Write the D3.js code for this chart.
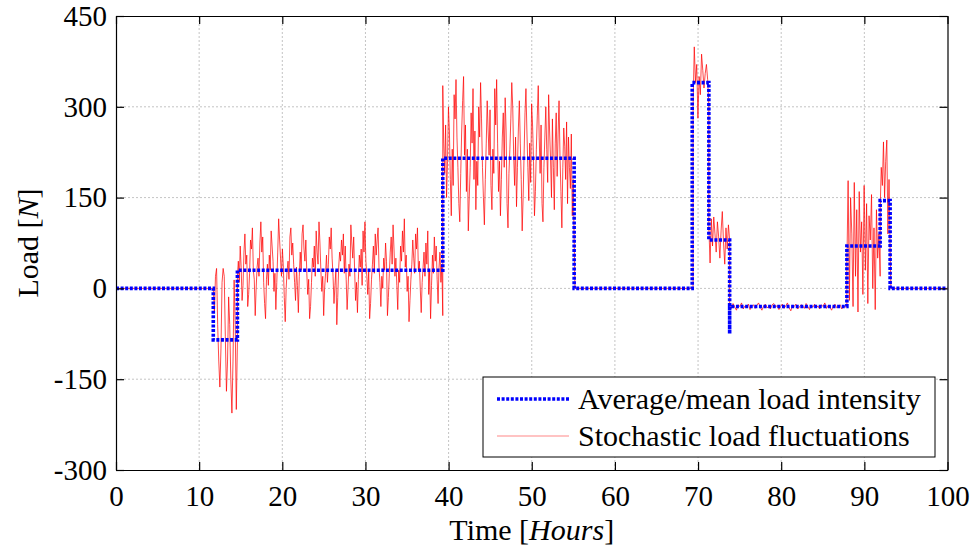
<!DOCTYPE html>
<html lang="en">
  <head>
    <meta charset="UTF-8" />
    <title>Load</title>
    <script src="https://d3js.org/d3.v7.min.js"></script>
    <style>
      body { margin: 0; background: #fff; }
      text { font-family: 'Liberation Serif', 'Times New Roman', serif; fill: #000; }
      .grid line { stroke: #c4c4c4; stroke-width: 1; stroke-dasharray: 2,2; }
    </style>
  </head>
  <body>
    <div id="chart"></div>
    <script>
      const xTicks = [0, 10, 20, 30, 40, 50, 60, 70, 80, 90, 100]
      const yTicks = [-300, -150, 0, 150, 300, 450]

      // average / mean load (step profile)
      const meanT = [0, 11.7, 11.7, 14.6, 14.6, 39.3, 39.3, 55.1, 55.1, 69.3, 69.3, 71.3, 71.3, 73.8, 73.8, 73.8, 87.9, 87.9, 91.9, 91.9, 93.1, 93.1, 100]
      const meanV = [0, 0, -85, -85, 30, 30, 215, 215, 0, 0, 340, 340, 80, 80, -75, -30, -30, 70, 70, 145, 145, 0, 0]

      // stochastic fluctuations, one array per load block: [start, end, values]
      const segA = [11.7, 14.6, [0, -40, 20, 33, -60, -120, -163, -100, 10, 33, 20, -80, -170, -120, -14, -60, -150, -206, -120, 14, -60, -200, -90]]
      const segB = [14.6, 39.3, [20, 45, 10, 70, 35, -20, 5, 60, 90, 40,
        55, -30, -10, 25, 80, 65, 100, 30, 15, -45,
        0, 35, 50, 20, 75, 110, 60, 85, 10, -25,
        -50, 15, 40, 5, 55, 30, 95, 70, 45, -5,
        25, -35, 10, 60, 115, 80, 50, 20, 65, 35,
        -15, -55, 0, 30, 45, 15, 85, 100, 55, 75,
        40, 10, -20, 35, 5, -40, 20, 60, 30, 90,
        105, 65, 45, 80, 25, -10, 15, -50, -30, 10,
        50, 35, 70, 20, 95, 60, 40, 110, 75, 30,
        -5, 20, -45, 0, 25, 55, 10, 40, 85, 65,
        100, 50, 20, -25, 5, 30, -60, -15, 35, 60,
        45, 80, 55, 90, 25, 70, 15, -35, 0, 40,
        20, 105, 75, 50, 85, 30, -20, 10, -40, 15,
        55, 35, 65, 5, 95, 60, 110, 45, 20, -10,
        30, -50, -25, 15, 40, 70, 25, 90, 55, 80,
        100, 35, 10, -30, 20, 0, 50, 30, 75, 45,
        -45, -15, 25, 60, 85, 40, 105, 65, 20, 50,
        5, -35, 30, 10, 70, 45, 95, 60, 115, 35,
        55, -5, 20, -55, -20, 15, 40, 80, 50, 25,
        90, 65, 100, 30, 45, 0, -40, 10, 35, 60,
        20, 75, 40, 95, -10, 30, -50, 5, 55, 25,
        85, 45, 70, 15, -25, 35, 60, 10, 40, -45]]
      const segC = [39.3, 55.1, [335, 240, 190, 270, 150, 210, 300, 260, 180, 120,
        230, 170, 320, 280, 345, 250, 200, 140, 110, 190,
        260, 310, 350, 220, 270, 160, 230, 95, 150, 200,
        290, 240, 330, 180, 260, 130, 210, 170, 300, 250,
        340, 280, 200, 150, 105, 180, 240, 310, 260, 220,
        295, 170, 130, 230, 190, 330, 270, 345, 240, 160,
        210, 120, 180, 250, 290, 200, 315, 260, 140, 100,
        190, 230, 280, 340, 300, 220, 170, 250, 135, 200,
        265, 310, 240, 180, 95, 150, 220, 290, 330, 260,
        200, 145, 240, 175, 305, 270, 210, 120, 160, 230,
        285, 335, 250, 190, 270, 140, 110, 200, 250, 300,
        230, 175, 320, 260, 215, 150, 280, 200, 130, 240,
        290, 185, 255, 310, 220, 160, 100, 200, 265, 235,
        180, 275, 140, 250, 200, 165, 255, 120, 180, 80]]
      const segD = [69.4, 71.3, [300, 399, 340, 370, 281, 350, 320, 387, 360, 331, 355, 370, 345, 303]]
      const segE = [71.3, 73.8, [100, 42, 115, 70, 118, 90, 60, 110, 85, 50, 95, 127, 75, 40, 100, 65, 105, 80]]
      const segF = [73.8, 87.9, [-28, -33, -25, -31, -36, -27, -30, -24, -34, -29, -32, -26, -35, -30, -27, -33, -28, -24, -31, -36,
        -29, -26, -32, -30, -34, -27, -25, -31, -28, -35, -30, -26, -33, -29, -24, -32, -37, -28, -30, -26,
        -34, -31, -27, -29, -33, -25, -30, -35, -28, -31, -26, -32, -29, -34, -27, -30, -24, -33, -28, -31,
        -36, -29, -26, -32, -30, -27, -34, -28, -31, -29]]
      const segG = [87.9, 91.9, [40, 178, -20, 150, 90, -30, 175, 20, 130, -39, 160, 60, 110, -10, 170, 30, 140, -25, 120, 80, 155, 0, 100, -35, 130, 50, 90, 20]]
      const segH = [91.9, 93.1, [130, 200, 170, 242, 150, 210, 245, 90, 180, 60]]

      const width = 974
      const height = 550
      const margin = { top: 16, right: 26.5, bottom: 80, left: 116 }
      const iw = width - margin.left - margin.right
      const ih = height - margin.top - margin.bottom

      const x = d3.scaleLinear().domain([0, 100]).range([0, iw])
      const y = d3.scaleLinear().domain([-300, 450]).range([ih, 0])

      const svg = d3.select('#chart').append('svg').attr('width', width).attr('height', height)
      const g = svg.append('g').attr('transform', `translate(${margin.left},${margin.top})`)

      svg.append('defs').append('clipPath').attr('id', 'clip')
        .append('rect').attr('width', iw).attr('height', ih)

      // grid
      const grid = g.append('g').attr('class', 'grid')
      grid.selectAll('.gx').data(xTicks.slice(1, -1)).enter().append('line')
        .attr('x1', d => x(d)).attr('x2', d => x(d)).attr('y1', 0).attr('y2', ih)
      grid.selectAll('.gy').data(yTicks.slice(1, -1)).enter().append('line')
        .attr('y1', d => y(d)).attr('y2', d => y(d)).attr('x1', 0).attr('x2', iw)

      // red fluctuations
      const redPts = [[0, 0], [11.6, 0]]
      ;[segA, segB, segC].forEach(([t0, t1, vals]) => {
        vals.forEach((v, i) => redPts.push([t0 + (i * (t1 - t0)) / (vals.length - 1), v]))
      })
      redPts.push([55.2, 0], [69.4, 0])
      ;[segD, segE, segF, segG, segH].forEach(([t0, t1, vals]) => {
        vals.forEach((v, i) => redPts.push([t0 + (i * (t1 - t0)) / (vals.length - 1), v]))
      })
      redPts.push([93.2, 0], [100, 0])

      const line = d3.line().x(d => x(d[0])).y(d => y(d[1]))

      const plot = g.append('g').attr('clip-path', 'url(#clip)')
      plot.append('path').datum(redPts).attr('d', line)
        .attr('fill', 'none').attr('stroke', '#ff0000').attr('stroke-width', 0.8).attr('stroke-opacity', 0.9)
        .attr('stroke-linejoin', 'round')

      plot.append('path').datum(meanT.map((t, i) => [t, meanV[i]])).attr('d', line)
        .attr('fill', 'none').attr('stroke', '#0000ff').attr('stroke-width', 3.6)
        .attr('stroke-dasharray', '3,1.6')

      // axes with inward ticks on all four sides
      const fmt = d => String(d)
      const styleAxis = sel => {
        sel.attr('font-family', null)
        sel.select('.domain').attr('stroke', '#000').attr('stroke-width', 1.2)
        sel.selectAll('.tick line').attr('stroke', '#000').attr('stroke-width', 1.2)
        sel.selectAll('text').style('font-size', '29px')
      }
      g.append('g').attr('transform', `translate(0,${ih})`)
        .call(d3.axisBottom(x).tickValues(xTicks).tickFormat(fmt).tickSizeInner(-8).tickSizeOuter(0).tickPadding(15))
        .call(styleAxis)
      g.append('g')
        .call(d3.axisLeft(y).tickValues(yTicks).tickFormat(fmt).tickSizeInner(-8).tickSizeOuter(0).tickPadding(9))
        .call(styleAxis)
      g.append('g')
        .call(d3.axisTop(x).tickValues(xTicks).tickFormat('').tickSizeInner(-8).tickSizeOuter(0))
        .call(styleAxis)
      g.append('g').attr('transform', `translate(${iw},0)`)
        .call(d3.axisRight(y).tickValues(yTicks).tickFormat('').tickSizeInner(-8).tickSizeOuter(0))
        .call(styleAxis)

      // axis titles
      const xl = svg.append('text').attr('x', margin.left + iw / 2).attr('y', 540)
        .attr('text-anchor', 'middle').style('font-size', '30px')
      xl.append('tspan').text('Time [')
      xl.append('tspan').style('font-style', 'italic').text('Hours')
      xl.append('tspan').text(']')

      const yl = svg.append('text').attr('transform', `translate(38,${margin.top + ih / 2}) rotate(-90)`)
        .attr('text-anchor', 'middle').style('font-size', '30px')
      yl.append('tspan').text('Load [')
      yl.append('tspan').style('font-style', 'italic').text('N')
      yl.append('tspan').text(']')

      // legend
      const lg = svg.append('g').attr('transform', 'translate(483,377)')
      lg.append('rect').attr('width', 452).attr('height', 80)
        .attr('fill', '#fff').attr('stroke', '#000').attr('stroke-width', 1)
      lg.append('line').attr('x1', 14).attr('x2', 86).attr('y1', 22).attr('y2', 22)
        .attr('stroke', '#0000ff').attr('stroke-width', 3.6).attr('stroke-dasharray', '3,1.6')
      lg.append('line').attr('x1', 14).attr('x2', 86).attr('y1', 59).attr('y2', 59)
        .attr('stroke', '#ff0000').attr('stroke-width', 0.8).attr('stroke-opacity', 0.6)
      lg.append('text').attr('x', 95).attr('y', 32).style('font-size', '30px').text('Average/mean load intensity')
      lg.append('text').attr('x', 95).attr('y', 69).style('font-size', '30px').text('Stochastic load fluctuations')
    </script>
  </body>
</html>
